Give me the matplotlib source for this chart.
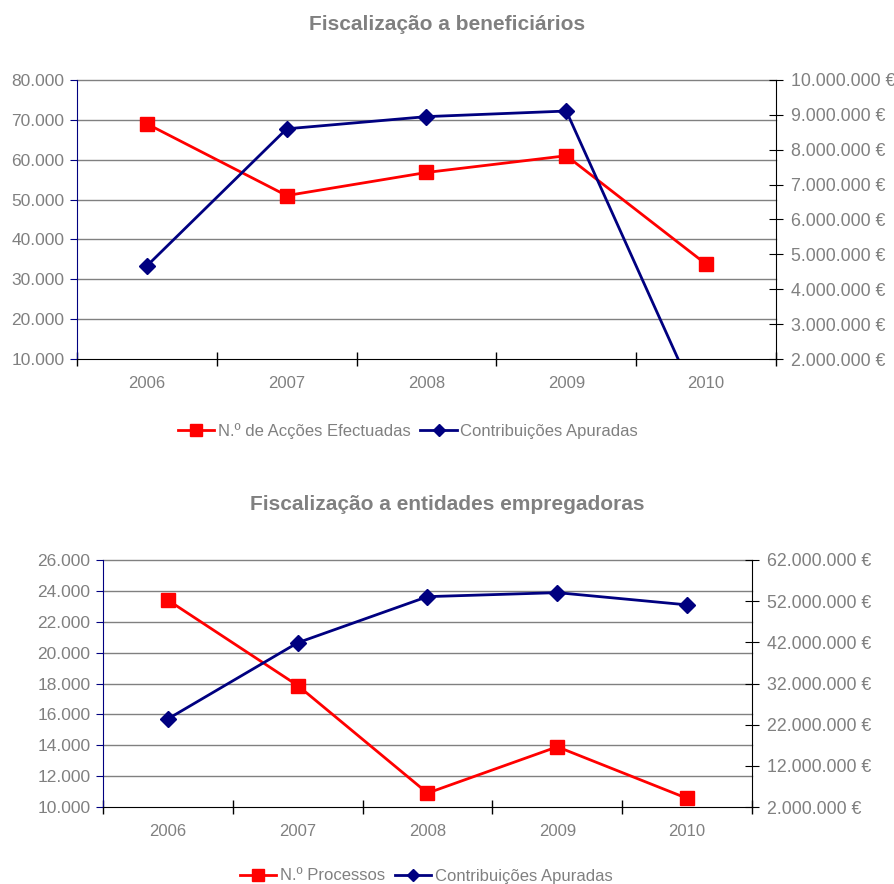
import numpy as np
import matplotlib
matplotlib.use("Agg")
import matplotlib.pyplot as plt
from matplotlib.ticker import FuncFormatter
from matplotlib.lines import Line2D

plt.rcParams['font.family'] = ['Liberation Sans', 'DejaVu Sans']

anos = ["2006", "2007", "2008", "2009", "2010"]

# grafico 1 - beneficiarios
accoes = [69000, 51000, 56800, 61000, 33800]
contrib_benef = [4670000, 8600000, 8950000, 9110000, 220000]

# grafico 2 - entidades empregadoras
processos = [23400, 17870, 10900, 13900, 10560]
contrib_entid = [23400000, 41900000, 53100000, 54070000, 51100000]

GREY = "#808080"
W, H = 895, 884


def pts(v):
    # 80000 -> "80.000"
    return "{:,.0f}".format(v).replace(",", ".")


def eur(v, p=None):
    return pts(v) + " €"


def desenha(box, title, title_y, left_vals, left_lim, left_step, right_vals, right_lim, right_step,
            lab_red, leg_x, leg_y):
    x0, y0, x1, y1 = box
    ax = fig.add_axes([x0 / W, 1 - y1 / H, (x1 - x0) / W, (y1 - y0) / H])
    ax2 = ax.twinx()
    x = np.arange(len(anos))

    yt = np.arange(left_lim[0], left_lim[1] + 1, left_step)
    for v in yt[1:]:
        ax.axhline(v, color=GREY, lw=1, zorder=0, clip_on=False)

    ax.plot(x, left_vals, color="#FF0000", lw=2, marker="s", ms=9.5, zorder=3)
    ax2.plot(x, right_vals, color="#000080", lw=2, marker="D", ms=8, zorder=3)

    ax.set_xlim(-0.5, len(anos) - 0.5)
    ax.set_ylim(*left_lim)
    ax.set_yticks(yt)
    ax.yaxis.set_major_formatter(FuncFormatter(lambda v, p: pts(v)))
    ax.set_xticks(x)
    ax.set_xticklabels(anos)
    ax.set_xticks(np.arange(-0.5, len(anos)), minor=True)
    ax.tick_params(axis="x", which="major", length=0, pad=12, labelcolor=GREY, labelsize=12)
    ax.tick_params(axis="x", which="minor", length=10, direction="inout", color="black", width=1)
    ax.tick_params(axis="y", length=5, color="#000080", labelcolor=GREY, labelsize=12.5, pad=4)

    ax2.set_ylim(*right_lim)
    ax2.set_yticks(np.arange(right_lim[0], right_lim[1] + 1, right_step))
    ax2.yaxis.set_major_formatter(FuncFormatter(eur))
    ax2.tick_params(axis="y", length=10, direction="inout", color="black", labelcolor=GREY,
                    labelsize=12.8, pad=6)

    for a in (ax, ax2):
        a.spines["top"].set_visible(False)
    ax.spines["right"].set_visible(False)
    ax2.spines["left"].set_visible(False)
    ax2.spines["bottom"].set_visible(False)
    ax.spines["left"].set_color("#000080")
    ax.spines["bottom"].set_color("black")
    ax2.spines["right"].set_color("black")

    fig.text(0.5, 1 - title_y / H, title, ha="center", va="center", fontsize=15,
             fontweight="bold", color=GREY)

    h1 = Line2D([], [], color="#FF0000", lw=2, marker="s", ms=8)
    h2 = Line2D([], [], color="#000080", lw=2, marker="D", ms=6.5)
    fig.legend([h1, h2], [lab_red, "Contribuições Apuradas"], loc="center",
               bbox_to_anchor=(leg_x / W, 1 - leg_y / H), ncol=2, frameon=False, fontsize=12,
               labelcolor=GREY, handlelength=2.2, handletextpad=0.2, columnspacing=0.6)


fig = plt.figure(figsize=(W / 100, H / 100), dpi=100)

desenha((77, 80, 776, 359), "Fiscalização a beneficiários", 25,
        accoes, (10000, 80000), 10000, contrib_benef, (2000000, 10000000), 1000000,
        "N.º de Acções Efectuadas", 408, 431)

desenha((103, 560, 752, 807), "Fiscalização a entidades empregadoras", 505,
        processos, (10000, 26000), 2000, contrib_entid, (2000000, 62000000), 10000000,
        "N.º Processos", 426, 876)

fig.savefig("out.png", dpi=100)
